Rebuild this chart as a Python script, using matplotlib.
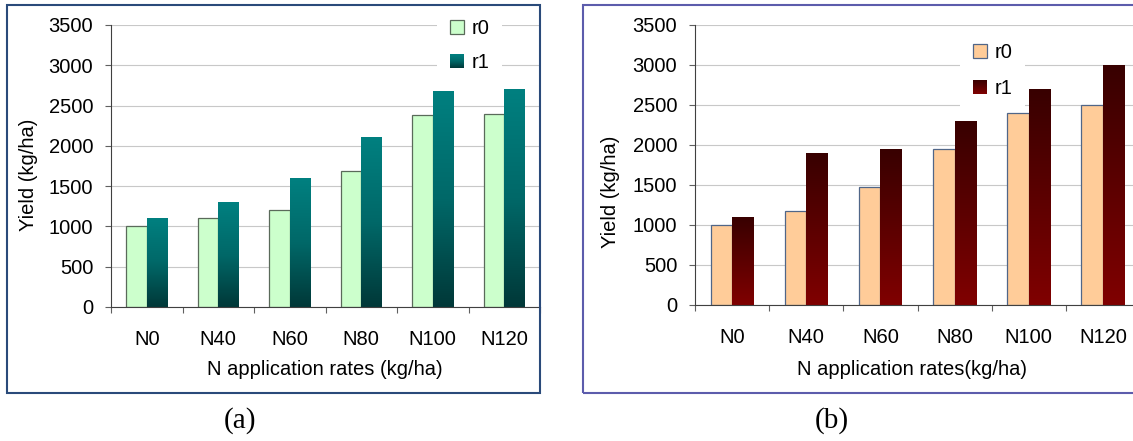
import numpy as np
import matplotlib
matplotlib.use("Agg")
import matplotlib.pyplot as plt
from matplotlib.patches import Rectangle, Patch
from matplotlib.colors import LinearSegmentedColormap, to_rgb
from matplotlib.legend_handler import HandlerBase

# ---------------- data ----------------
categories = ["N0", "N40", "N60", "N80", "N100", "N120"]
yield_a_r0 = [1000, 1100, 1200, 1690, 2380, 2400]
yield_a_r1 = [1100, 1300, 1590, 2100, 2680, 2700]
yield_b_r0 = [1000, 1170, 1470, 1950, 2400, 2500]
yield_b_r1 = [1100, 1900, 1940, 2300, 2700, 3000]
series_names = ["r0", "r1"]
y_ticks = [0, 500, 1000, 1500, 2000, 2500, 3000, 3500]
xlabel_a = "N application rates (kg/ha)"
xlabel_b = "N application rates(kg/ha)"
ylabel = "Yield (kg/ha)"
panel_labels = ["(a)", "(b)"]

plt.rcParams['font.family'] = ['Liberation Sans', 'DejaVu Sans']

W, H = 1133, 441
DPI = 100
fig = plt.figure(figsize=(W / DPI, H / DPI), dpi=DPI)
fig.patch.set_facecolor("white")

FS = 14.5


def px_axes(left, top, right, bottom):
    return fig.add_axes([left / W, 1 - bottom / H, (right - left) / W, (bottom - top) / H])


def fx(x):
    return x / W


def fy(y):
    return 1 - y / H


class GradHandler(HandlerBase):
    def __init__(self, colors, n=14):
        super().__init__()
        self.cmap = LinearSegmentedColormap.from_list("lg", colors)
        self.n = n

    def create_artists(self, legend, orig_handle, xdescent, ydescent,
                       width, height, fontsize, trans):
        arts = []
        for k in range(self.n):
            t = (k + 0.5) / self.n
            r = Rectangle((-xdescent, -ydescent + height * k / self.n), width,
                          height / self.n * 1.05, facecolor=self.cmap(t), edgecolor="none",
                          transform=trans)
            arts.append(r)
        return arts


def draw_panel(ax, v0, v1, c0, e0, grad_colors):
    x = np.arange(len(categories))
    bw = 0.29
    ax.bar(x - bw / 2, v0, bw, color=c0, edgecolor=e0, linewidth=0.9, zorder=3)
    b1 = ax.bar(x + bw / 2, v1, bw, color=grad_colors[0], edgecolor="none", linewidth=0, zorder=3)
    cmap = LinearSegmentedColormap.from_list("g", grad_colors)
    grad = np.linspace(0, 1, 256).reshape(-1, 1)
    for p in b1.patches:
        x0, w, h = p.get_x(), p.get_width(), p.get_height()
        ax.imshow(grad, extent=[x0, x0 + w, 0, h], origin="lower", aspect="auto",
                  cmap=cmap, zorder=3.5, interpolation="bilinear")
    ax.set_xlim(-0.5, len(categories) - 0.5)
    ax.set_ylim(0, 3500)
    ax.set_yticks(y_ticks)
    ax.set_yticklabels([str(t) for t in y_ticks], fontsize=FS)
    ax.set_xticks(x)
    ax.set_xticklabels(categories, fontsize=FS)
    ax.set_xticks(np.arange(len(categories) + 1) - 0.5, minor=True)
    ax.tick_params(axis="x", which="major", length=0, pad=16.5)
    ax.tick_params(axis="x", which="minor", length=4, width=0.8, color="#606060", direction="out")
    ax.tick_params(axis="y", which="major", length=4, width=0.8, color="#606060",
                   direction="out", pad=8.8)
    ax.grid(axis="y", color="#c8c8c8", linewidth=0.8, zorder=0)
    ax.set_axisbelow(True)
    for s in ["top", "right"]:
        ax.spines[s].set_visible(False)
    for s in ["left", "bottom"]:
        ax.spines[s].set_color("#404040")
        ax.spines[s].set_linewidth(0.8)
        ax.spines[s].set_zorder(5)
    handles = [Patch(facecolor=c0, edgecolor=e0, linewidth=0.9), Patch(facecolor=grad_colors[-1])]
    return handles, GradHandler(grad_colors)


# -------- panel (a) --------
ax_a = px_axes(111, 25, 540, 307)
h_a, gh_a = draw_panel(ax_a, yield_a_r0, yield_a_r1, "#ccffcc", "#5a6a5a",
                       ["#003838", "#006868", "#008080"])
leg_a = ax_a.legend(h_a, series_names, loc="upper left",
                    bbox_to_anchor=(fx(437), fy(6)), bbox_transform=fig.transFigure,
                    borderaxespad=0, borderpad=0.65, frameon=True, fancybox=False,
                    framealpha=1, edgecolor="none", facecolor="white",
                    handlelength=0.7, handleheight=0.7, handletextpad=0.35,
                    labelspacing=0.74, fontsize=FS, handler_map={h_a[1]: gh_a})
leg_a.set_zorder(10)

# -------- panel (b) --------
ax_b = px_axes(695, 25, 1140, 305)
h_b, gh_b = draw_panel(ax_b, yield_b_r0, yield_b_r1, "#ffcc99", "#506688",
                       ["#800000", "#5c0000", "#380000"])
leg_b = ax_b.legend(h_b, series_names, loc="upper left",
                    bbox_to_anchor=(fx(960), fy(30)), bbox_transform=fig.transFigure,
                    borderaxespad=0, borderpad=0.65, frameon=True, fancybox=False,
                    framealpha=1, edgecolor="none", facecolor="white",
                    handlelength=0.7, handleheight=0.7, handletextpad=0.35,
                    labelspacing=0.85, fontsize=FS, handler_map={h_b[1]: gh_b})
leg_b.set_zorder(10)

# -------- axis titles --------
fig.text(fx(28), fy(175), ylabel, rotation=90, ha="center", va="center", fontsize=FS)
fig.text(fx(610), fy(192), ylabel, rotation=90, ha="center", va="center", fontsize=FS)
fig.text(fx(325), fy(375), xlabel_a, ha="center", va="baseline", fontsize=FS)
fig.text(fx(912), fy(375), xlabel_b, ha="center", va="baseline", fontsize=FS)

# -------- panel frames --------
fig.add_artist(Rectangle((fx(7), fy(393)), (540 - 7) / W, (393 - 5) / H,
                         transform=fig.transFigure, fill=False,
                         edgecolor="#2a4a7a", linewidth=1.5, zorder=20))
fig.add_artist(Rectangle((fx(583), fy(393)), (1160 - 583) / W, (393 - 5) / H,
                         transform=fig.transFigure, fill=False,
                         edgecolor="#5c5cac", linewidth=1.5, zorder=20))

# -------- panel labels --------
serif = ['Liberation Serif', 'DejaVu Serif']
fig.text(fx(240), fy(428), panel_labels[0], ha="center", va="baseline",
         fontsize=21, family=serif)
fig.text(fx(832), fy(428), panel_labels[1], ha="center", va="baseline",
         fontsize=21, family=serif)

fig.savefig("out.png", dpi=DPI, facecolor="white")
